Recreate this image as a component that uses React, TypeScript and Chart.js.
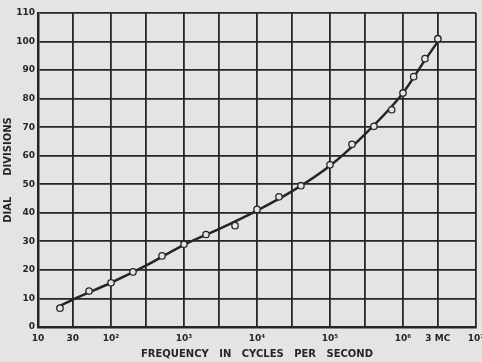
import { useEffect, useRef } from "react";
import { Chart, registerables } from "chart.js";

Chart.register(...registerables);

// Measured points (frequency in Hz, dial divisions)
const freqHz = [20, 50, 100, 200, 500, 1000, 2000, 5000, 1e4, 2e4, 4e4, 1e5, 2e5, 4e5, 7e5, 1e6, 1.4e6, 2e6, 3e6];
const dialDivisions = [6.6, 12.6, 15.5, 19.3, 24.9, 29, 32.4, 35.5, 41.2, 45.6, 49.5, 56.8, 64, 70.3, 76.1, 82, 87.7, 94, 101];

// Smooth calibration curve drawn through the points
const curveHz = [18, 30, 100, 300, 1000, 3000, 1e4, 3e4, 1e5, 3e5, 1e6, 2e6, 3.3e6];
const curveDivisions = [6.8, 9.6, 15.5, 21.5, 28.8, 34.3, 40.8, 47.5, 56.5, 67.5, 82, 93.5, 101.5];

// Axis ticks
const xTickValues = [10, 30, 100, 300, 1000, 3000, 1e4, 3e4, 1e5, 3e5, 1e6, 3e6, 1e7];
const xTickLabels = ["10", "30", "10²", "", "10³", "", "10⁴", "", "10⁵", "", "10⁶", "3 MC", "10⁷"];

const PAPER = "#e4e4e2";
const INK = "#262626";

export default function App() {
  const ref = useRef<HTMLCanvasElement | null>(null);

  useEffect(() => {
    document.body.style.margin = "0";
    const canvas = ref.current;
    if (!canvas) return;

    const bg = {
      id: "paper",
      beforeDraw(chart: any) {
        const ctx = chart.ctx;
        ctx.save();
        ctx.fillStyle = PAPER;
        ctx.fillRect(0, 0, chart.width, chart.height);
        ctx.restore();
      },
    };

    const chart = new Chart(canvas, {
      type: "scatter",
      data: {
        datasets: [
          {
            label: "curve",
            data: curveHz.map((x, i) => ({ x, y: curveDivisions[i] })),
            showLine: true,
            borderColor: INK,
            borderWidth: 2.5,
            pointRadius: 0,
            cubicInterpolationMode: "monotone",
            order: 2,
          },
          {
            label: "measured",
            data: freqHz.map((x, i) => ({ x, y: dialDivisions[i] })),
            showLine: false,
            pointStyle: "circle",
            pointRadius: 3.2,
            pointBackgroundColor: PAPER,
            pointBorderColor: INK,
            pointBorderWidth: 1.3,
            order: 1,
          },
        ],
      },
      options: {
        responsive: false,
        animation: false,
        devicePixelRatio: 1,
        layout: { padding: { top: 13, right: 6, left: 0, bottom: 0 } },
        plugins: {
          legend: { display: false },
          tooltip: { enabled: false },
        },
        scales: {
          x: {
            type: "logarithmic",
            min: 10,
            max: 1e7,
            afterBuildTicks(scale: any) {
              scale.ticks = xTickValues.map((v) => ({ value: v, major: true }));
            },
            afterFit(scale: any) {
              scale.height = 35;
              scale.paddingLeft = 0;
              scale.paddingRight = 0;
            },
            grid: {
              color: INK,
              lineWidth: 1.8,
              drawTicks: false,
            },
            border: { color: INK, width: 2.5 },
            ticks: {
              autoSkip: false,
              maxRotation: 0,
              padding: 6,
              color: INK,
              font: { family: "DejaVu Sans", size: 9, weight: "bold" },
              callback(value: any) {
                const i = xTickValues.indexOf(Number(value));
                return i >= 0 ? xTickLabels[i] : "";
              },
            },
            title: {
              display: true,
              text: "FREQUENCY   IN   CYCLES   PER   SECOND",
              color: INK,
              font: { family: "DejaVu Sans", size: 10, weight: "bold" },
              padding: { top: 0, bottom: 2 },
            },
          },
          y: {
            type: "linear",
            min: 0,
            max: 110,
            afterFit(scale: any) {
              scale.width = 38;
            },
            grid: {
              color: INK,
              lineWidth: 1.8,
              drawTicks: false,
            },
            border: { color: INK, width: 2.5 },
            ticks: {
              stepSize: 10,
              padding: 3,
              color: INK,
              font: { family: "DejaVu Sans", size: 9, weight: "bold" },
            },
            title: {
              display: true,
              text: "DIAL      DIVISIONS",
              color: INK,
              font: { family: "DejaVu Sans", size: 10, weight: "bold" },
              padding: { top: 2, bottom: 0 },
            },
          },
        },
      } as any,
      plugins: [bg],
    });

    return () => chart.destroy();
  }, []);

  return (
    <div style={{ position: "absolute", left: 0, top: 0, width: 482, height: 362 }}>
      <canvas ref={ref} width={482} height={362} />
    </div>
  );
}
